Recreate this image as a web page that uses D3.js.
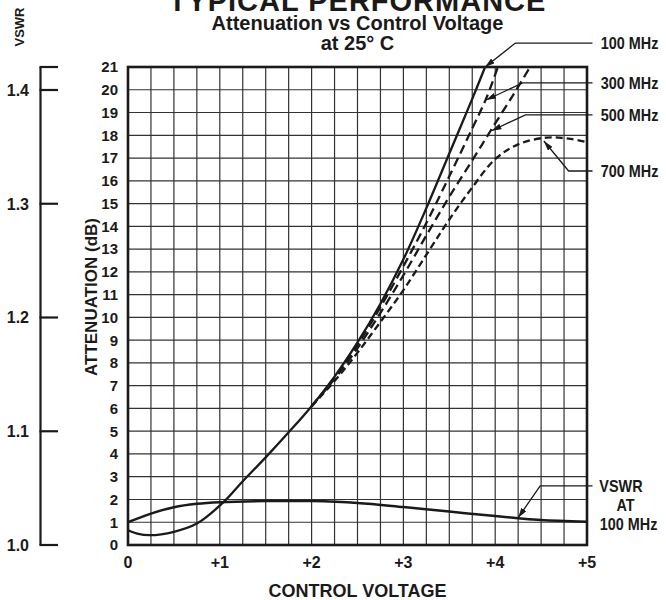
<!DOCTYPE html>
<html><head><meta charset="utf-8">
<script src="https://cdn.jsdelivr.net/npm/d3@7"></script>
<style>body{margin:0;background:#fff}svg{display:block}text{font-family:"Liberation Sans",Arial,sans-serif;font-weight:bold;fill:#1a1a1a}</style>
</head><body>
<svg id="c" width="666" height="600"></svg>
<script>
// ---- data ----
const xTickValues = [0,1,2,3,4,5];
const xTickLabels = ["0","+1","+2","+3","+4","+5"];
const yTickValues = d3.range(0,22);
const vswrTickValues = [1.0,1.1,1.2,1.3,1.4];
const vswrTickLabels = ["1.0","1.1","1.2","1.3","1.4"];

const att100 = [[0,0.65],[0.1,0.5],[0.24,0.43],[0.5,0.58],[0.75,0.94],[1.04,1.88],[1.25,2.8],[1.5,3.85],[1.75,4.95],[2.0,6.1],[2.25,7.4],[2.5,8.9],[2.75,10.6],[3.0,12.55],[3.25,14.8],[3.5,17.2],[3.75,19.6],[3.89,21]];
const att300 = [[2.0,6.1],[2.25,7.35],[2.5,8.8],[2.75,10.45],[3.0,12.25],[3.25,14.15],[3.5,16.2],[3.75,18.3],[3.9,19.6],[4.03,21]];
const att500 = [[2.0,6.1],[2.25,7.3],[2.5,8.65],[2.75,10.2],[3.0,11.85],[3.25,13.6],[3.5,15.3],[3.75,16.9],[3.95,18.2],[4.2,19.8],[4.38,21]];
const att700 = [[2.0,6.1],[2.25,7.2],[2.5,8.45],[2.75,9.8],[3.0,11.2],[3.29,13.0],[3.5,14.3],[3.73,15.6],[4.0,16.95],[4.25,17.6],[4.56,17.9],[4.8,17.85],[5.0,17.7]];
const vswr100 = [[0,1.020],[0.25,1.0276],[0.5,1.0332],[0.75,1.0362],[1.0,1.0376],[1.5,1.0386],[2.0,1.0386],[2.5,1.037],[3.0,1.0334],[3.5,1.0294],[4.0,1.0254],[4.25,1.0236],[4.5,1.022],[5.0,1.0204]];

// annotations: leader [tip, elbow, end] in (volts, dB) units, label lines
const notes = [
  {pts:[[3.89,21.0],[4.22,22.05],[5.06,22.05]], lines:["100 MHz"], lx:[5.15], ly:[22.05], anchor:["start"]},
  {pts:[[3.9,19.55],[4.3,20.3],[5.06,20.3]], lines:["300 MHz"], lx:[5.15], ly:[20.3], anchor:["start"]},
  {pts:[[3.96,18.2],[4.33,18.9],[5.06,18.9]], lines:["500 MHz"], lx:[5.15], ly:[18.9], anchor:["start"]},
  {pts:[[4.53,17.75],[4.8,16.43],[5.06,16.43]], lines:["700 MHz"], lx:[5.15], ly:[16.43], anchor:["start"]},
  {pts:[[4.25,1.2],[4.49,2.6],[5.06,2.6]], lines:["VSWR","AT","100 MHz"], lx:[5.37,5.42,5.14], ly:[2.58,1.76,0.9], anchor:["middle","middle","start"]}
];

// ---- layout ----
const svg = d3.select("#c");
const x = d3.scaleLinear([0,5],[128,587]);
const y = d3.scaleLinear([0,21],[545,67]);
const yv = d3.scaleLinear([1.0,1.4],[545,90]);

svg.append("defs").append("marker").attr("id","arr").attr("viewBox","0 0 10 6")
  .attr("refX",10).attr("refY",3).attr("markerWidth",10).attr("markerHeight",6)
  .attr("markerUnits","userSpaceOnUse").attr("orient","auto")
  .append("path").attr("d","M0,0L10,3L0,6Z").attr("fill","#1a1a1a");

// titles
const cx = (x(0)+x(5))/2;
svg.append("text").attr("x",cx).attr("y",11).attr("text-anchor","middle").attr("font-size",29).attr("letter-spacing",1).text("TYPICAL PERFORMANCE");
svg.append("text").attr("x",cx).attr("y",30).attr("text-anchor","middle").attr("font-size",20).text("Attenuation vs Control Voltage");
svg.append("text").attr("x",cx).attr("y",50).attr("text-anchor","middle").attr("font-size",20).text("at 25\u00B0 C");

// grid
const g = svg.append("g");
g.selectAll(".vg").data(d3.range(0,5.001,0.25)).join("line")
  .attr("x1",d=>x(d)).attr("x2",d=>x(d)).attr("y1",y(0)).attr("y2",y(21))
  .attr("stroke","#333").attr("stroke-width",1.2);
g.selectAll(".hg").data(yTickValues).join("line")
  .attr("x1",x(0)).attr("x2",x(5)).attr("y1",d=>y(d)).attr("y2",d=>y(d))
  .attr("stroke","#333").attr("stroke-width",1.2);
g.append("rect").attr("x",x(0)).attr("y",y(21)).attr("width",x(5)-x(0)).attr("height",y(0)-y(21))
  .attr("fill","none").attr("stroke","#1a1a1a").attr("stroke-width",2.6);

// y labels
svg.selectAll(".yl").data(yTickValues).join("text")
  .attr("x",118).attr("y",d=>y(d)).attr("dy","0.36em").attr("text-anchor","end").attr("font-size",15).text(d=>d);
// x labels
svg.selectAll(".xl").data(xTickValues).join("text")
  .attr("x",d=>x(d)).attr("y",568).attr("text-anchor","middle").attr("font-size",16).text((d,i)=>xTickLabels[i]);
svg.append("text").attr("x",cx).attr("y",597).attr("text-anchor","middle").attr("font-size",18).text("CONTROL VOLTAGE");
svg.append("text").attr("transform",`translate(97,${(y(0)+y(21))/2-9}) rotate(-90)`).attr("text-anchor","middle").attr("font-size",17).text("ATTENUATION (dB)");

// VSWR axis
const vx = 40.5;
svg.append("line").attr("x1",vx).attr("x2",vx).attr("y1",y(21)).attr("y2",yv(1.0)).attr("stroke","#1a1a1a").attr("stroke-width",2.2);
svg.selectAll(".vt").data(vswrTickValues.concat([yv.invert(y(21))])).join("line")
  .attr("x1",vx-1).attr("x2",58).attr("y1",d=>yv(d)).attr("y2",d=>yv(d)).attr("stroke","#1a1a1a").attr("stroke-width",2.2);
svg.selectAll(".vl").data(vswrTickValues).join("text")
  .attr("x",29).attr("y",d=>yv(d)).attr("dy","0.36em").attr("text-anchor","end").attr("font-size",16).text((d,i)=>vswrTickLabels[i]);
svg.append("text").attr("transform","translate(24,27) rotate(-90)").attr("text-anchor","middle").attr("font-size",13).text("VSWR");

// curves
const line = d3.line().x(d=>x(d[0])).y(d=>y(d[1])).curve(d3.curveCatmullRom.alpha(0.5));
const lineV = d3.line().x(d=>x(d[0])).y(d=>yv(d[1])).curve(d3.curveCatmullRom.alpha(0.5));
const series = [
  {d:att100, dash:null},
  {d:att300, dash:"9,5"},
  {d:att500, dash:"9,5"},
  {d:att700, dash:"7,4"}
];
series.forEach(s=>{
  svg.append("path").attr("d",line(s.d)).attr("fill","none").attr("stroke","#1a1a1a")
    .attr("stroke-width",2.3).attr("stroke-dasharray",s.dash);
});
svg.append("path").attr("d",lineV(vswr100)).attr("fill","none").attr("stroke","#1a1a1a").attr("stroke-width",2.5);

// annotations
notes.forEach(n=>{
  const p = n.pts.slice().reverse();
  svg.append("path").attr("d",d3.line().x(d=>x(d[0])).y(d=>y(d[1]))(p))
    .attr("fill","none").attr("stroke","#1a1a1a").attr("stroke-width",1.3).attr("marker-end","url(#arr)");
  n.lines.forEach((t,i)=>{
    svg.append("text").attr("transform",`translate(${x(n.lx[i])},${y(n.ly[i])}) scale(0.9,1)`).attr("dy","0.36em")
      .attr("text-anchor",n.anchor[i]).attr("font-size",16).text(t);
  });
});
</script>
</body></html>
